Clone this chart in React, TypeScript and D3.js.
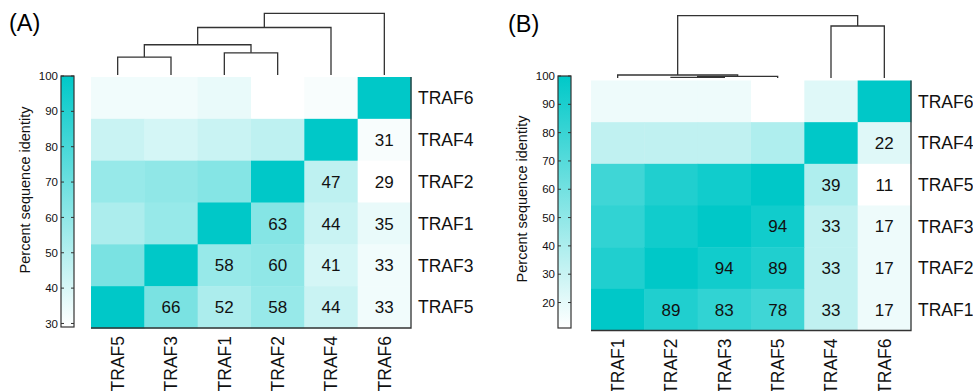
import * as d3 from 'd3'

const FONT = '"Liberation Sans", Arial, Helvetica, sans-serif'
const TEAL = '#00c8c8'
const INK = '#333'

// panel A
const orderA = ['TRAF5', 'TRAF3', 'TRAF1', 'TRAF2', 'TRAF4', 'TRAF6']
const pairsA: [string, string, number][] = [
  ['TRAF5', 'TRAF3', 66], ['TRAF5', 'TRAF1', 52], ['TRAF5', 'TRAF2', 58], ['TRAF5', 'TRAF4', 44], ['TRAF5', 'TRAF6', 33],
  ['TRAF3', 'TRAF1', 58], ['TRAF3', 'TRAF2', 60], ['TRAF3', 'TRAF4', 41], ['TRAF3', 'TRAF6', 33],
  ['TRAF1', 'TRAF2', 63], ['TRAF1', 'TRAF4', 44], ['TRAF1', 'TRAF6', 35],
  ['TRAF2', 'TRAF4', 47], ['TRAF2', 'TRAF6', 29],
  ['TRAF4', 'TRAF6', 31],
]
// merges: children are leaf names or indices of earlier merges, then relative height
const mergesA: [string | number, string | number, number][] = [
  ['TRAF5', 'TRAF3', 0.29],
  ['TRAF1', 'TRAF2', 0.36],
  [0, 1, 0.49],
  [2, 'TRAF4', 0.77],
  [3, 'TRAF6', 1],
]
const ticksA = [30, 40, 50, 60, 70, 80, 90, 100]

// panel B
const orderB = ['TRAF1', 'TRAF2', 'TRAF3', 'TRAF5', 'TRAF4', 'TRAF6']
const pairsB: [string, string, number][] = [
  ['TRAF1', 'TRAF2', 89], ['TRAF1', 'TRAF3', 83], ['TRAF1', 'TRAF5', 78], ['TRAF1', 'TRAF4', 33], ['TRAF1', 'TRAF6', 17],
  ['TRAF2', 'TRAF3', 94], ['TRAF2', 'TRAF5', 89], ['TRAF2', 'TRAF4', 33], ['TRAF2', 'TRAF6', 17],
  ['TRAF3', 'TRAF5', 94], ['TRAF3', 'TRAF4', 33], ['TRAF3', 'TRAF6', 17],
  ['TRAF5', 'TRAF4', 39], ['TRAF5', 'TRAF6', 11],
  ['TRAF4', 'TRAF6', 22],
]
const mergesB: [string | number, string | number, number][] = [
  ['TRAF2', 'TRAF3', 0.011],
  [0, 'TRAF5', 0.027],
  ['TRAF1', 1, 0.048],
  ['TRAF4', 'TRAF6', 0.835],
  [2, 3, 1],
]
const ticksB = [20, 30, 40, 50, 60, 70, 80, 90, 100]

type Geo = {
  hx0: number; hx1: number; hy0: number; hy1: number
  barX: number; barTop: number; barBottom: number
  titleX: number; titleY: number
  dTop: number; dBase: number
  tagX: number; tagY: number
}

function Panel({ id, tag, order, pairs, merges, ticks, g }: {
  id: string; tag: string; order: string[]; pairs: [string, string, number][]
  merges: [string | number, string | number, number][]; ticks: number[]; g: Geo
}) {
  const lookup = new Map<string, number>()
  pairs.forEach(([a, b, v]) => { lookup.set(a + b, v); lookup.set(b + a, v) })
  const val = (a: string, b: string) => (a === b ? 100 : lookup.get(a + b) ?? 0)
  const minV = d3.min(pairs, (d) => d[2]) ?? 0

  const color = d3.scaleLinear<string>().domain([minV, 100]).range(['#ffffff', TEAL]).clamp(true)
  const x = d3.scaleBand().domain(order).range([g.hx0, g.hx1])
  const rows = [...order].reverse()
  const y = d3.scaleBand().domain(rows).range([g.hy0, g.hy1])
  const bar = d3.scaleLinear().domain([minV, 100]).range([g.barBottom, g.barTop])
  const hy = d3.scaleLinear().domain([0, 1]).range([g.dBase, g.dTop])

  // dendrogram
  const nodes: { x: number; y: number }[] = []
  const pos = (c: string | number) =>
    typeof c === 'number' ? nodes[c] : { x: (x(c) ?? 0) + x.bandwidth() / 2, y: g.dBase }
  const segs: string[] = []
  merges.forEach(([a, b, h]) => {
    const pa = pos(a), pb = pos(b)
    const yy = hy(h)
    const p = d3.path()
    p.moveTo(pa.x, pa.y); p.lineTo(pa.x, yy); p.lineTo(pb.x, yy); p.lineTo(pb.x, pb.y)
    segs.push(p.toString())
    nodes.push({ x: (pa.x + pb.x) / 2, y: yy })
  })

  const stops = d3.range(0, 1.0001, 0.1)
  const bw = 13

  return (
    <g>
      <text x={g.tagX} y={g.tagY} fontSize={23.5} fontFamily={FONT}>{tag}</text>
      <defs>
        <linearGradient id={`grad${id}`} x1="0" y1="1" x2="0" y2="0">
          {stops.map((s) => (
            <stop key={s} offset={s} stopColor={color(minV + s * (100 - minV))} />
          ))}
        </linearGradient>
      </defs>
      {/* colour bar */}
      <rect x={g.barX} y={g.barTop} width={bw} height={g.barBottom - g.barTop} fill={`url(#grad${id})`} stroke={INK} strokeWidth={1.2} />
      {ticks.map((t) => (
        <g key={t}>
          <line x1={g.barX} x2={g.barX + 3} y1={bar(t)} y2={bar(t)} stroke={INK} />
          <line x1={g.barX + bw - 3} x2={g.barX + bw} y1={bar(t)} y2={bar(t)} stroke={INK} />
          <text x={g.barX - 3} y={bar(t)} dy="0.36em" textAnchor="end" fontSize={11.5} fontFamily={FONT} fill="#111">{t}</text>
        </g>
      ))}
      <text transform={`translate(${g.titleX},${g.titleY}) rotate(-90)`} textAnchor="middle" dy="0.35em" fontSize={14.5} fontFamily={FONT} fill="#111">
        Percent sequence identity
      </text>
      {/* cells */}
      {rows.map((r, ri) =>
        order.map((c, ci) => {
          const v = val(r, c)
          const showNum = ri + ci > order.length - 1
          return (
            <g key={r + c}>
              <rect x={x(c)} y={y(r)} width={x.bandwidth() + 0.5} height={y.bandwidth() + 0.5} fill={color(v)} />
              {showNum && (
                <text x={(x(c) ?? 0) + x.bandwidth() / 2} y={(y(r) ?? 0) + y.bandwidth() / 2} dy="0.36em" textAnchor="middle" fontSize={17} fontFamily={FONT} fill="#111">{v}</text>
              )}
            </g>
          )
        })
      )}
      <path d={`M${g.hx0},${g.hy1}H${g.hx1}V${g.hy0}`} fill="none" stroke={INK} strokeWidth={1.3} />
      {/* labels */}
      {rows.map((r) => (
        <text key={r} x={g.hx1 + 7} y={(y(r) ?? 0) + y.bandwidth() / 2} dy="0.36em" fontSize={17.5} fontFamily={FONT} fill="#111">{r}</text>
      ))}
      {order.map((c) => (
        <text key={c} transform={`translate(${(x(c) ?? 0) + x.bandwidth() / 2},${g.hy1 + 8}) rotate(-90)`} dy="0.36em" textAnchor="end" fontSize={17.5} fontFamily={FONT} fill="#111">{c}</text>
      ))}
      {segs.map((d, i) => (
        <path key={i} d={d} fill="none" stroke={INK} strokeWidth={1.3} />
      ))}
    </g>
  )
}

const geoA: Geo = {
  hx0: 91, hx1: 411, hy0: 77, hy1: 328,
  barX: 61, barTop: 76, barBottom: 327,
  titleX: 25, titleY: 190,
  dTop: 13.3, dBase: 75,
  tagX: 9, tagY: 31,
}
const geoB: Geo = {
  hx0: 591, hx1: 911, hy0: 80.5, hy1: 330.5,
  barX: 558, barTop: 76, barBottom: 328,
  titleX: 522, titleY: 199,
  dTop: 15.7, dBase: 78,
  tagX: 508, tagY: 32,
}

export default function App() {
  return (
    <svg width={973} height={391} style={{ position: 'absolute', left: 0, top: 0, background: '#fff' }}>
      <Panel id="A" tag="(A)" order={orderA} pairs={pairsA} merges={mergesA} ticks={ticksA} g={geoA} />
      <Panel id="B" tag="(B)" order={orderB} pairs={pairsB} merges={mergesB} ticks={ticksB} g={geoB} />
    </svg>
  )
}
